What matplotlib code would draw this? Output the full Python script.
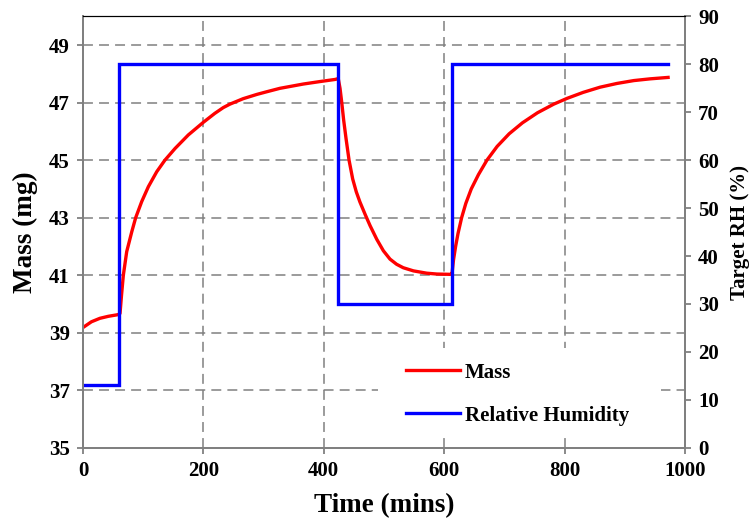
import matplotlib
matplotlib.use("Agg")
import matplotlib.pyplot as plt
from matplotlib.patches import Rectangle

# Mass curve (mins, mg)
mass_t = [0, 14, 28, 42, 56, 60, 61.5, 64, 67, 72.6, 81, 87.5, 97.5, 108.6, 122.5, 136, 153, 175, 200,
          219, 233, 244, 266, 289, 305, 327, 366, 395, 419,
          424, 427, 430, 433, 437, 442, 448, 454, 460, 469, 477, 488, 499, 510, 521, 532, 549, 571, 588, 610,
          613, 615.5, 619, 623, 629, 636, 645, 657, 671, 688, 708, 730, 755, 782, 804, 831, 859,
          887, 915, 942, 972]
mass_mg = [39.18, 39.38, 39.50, 39.57, 39.62, 39.64, 39.67, 40.31, 41.00, 41.82, 42.51, 43.00, 43.56, 44.08, 44.60, 45.00, 45.41, 45.88, 46.32,
           46.63, 46.83, 46.95, 47.14, 47.29, 47.38, 47.50, 47.65, 47.74, 47.81,
           47.84, 47.50, 46.98, 46.40, 45.75, 45.00, 44.35, 43.90, 43.55, 43.10, 42.72, 42.25, 41.85, 41.56, 41.38, 41.26, 41.15, 41.07, 41.04, 41.03,
           41.05, 41.53, 42.00, 42.45, 43.00, 43.50, 44.00, 44.50, 45.00, 45.48, 45.92, 46.30, 46.65, 46.95, 47.15, 47.36, 47.54,
           47.67, 47.77, 47.83, 47.88]

# Target RH step profile (mins, %)
rh_t = [0, 60, 60, 423, 423, 613, 613, 972]
rh_pct = [13, 13, 80, 80, 30, 30, 80, 80]

x_ticks = [0, 200, 400, 600, 800, 1000]
mass_ticks = [35, 37, 39, 41, 43, 45, 47, 49]
rh_ticks = [0, 10, 20, 30, 40, 50, 60, 70, 80, 90]

plt.rcParams['font.family'] = ['Liberation Serif', 'DejaVu Serif']
plt.rcParams['font.weight'] = 'bold'

fig = plt.figure(figsize=(7.56, 5.23), dpi=100)
ax = fig.add_axes([0.1098, 0.144, 0.7962, 0.8245])
ax2 = ax.twinx()

gray = '#808080'
red_line, = ax.plot(mass_t, mass_mg, color='#ff0000', lw=2.4, solid_joinstyle='round', label='Mass', zorder=3)
blue_line, = ax2.plot(rh_t, rh_pct, color='#0000ff', lw=2.4, solid_joinstyle='miter', label='Relative Humidity')

ax.set_xlim(0, 1000)
ax.set_ylim(35, 50)
ax2.set_ylim(0, 90)
ax.set_xticks(x_ticks)
ax.set_yticks(mass_ticks)
ax2.set_yticks(rh_ticks)

ax.grid(True, color=gray, linestyle=(0, (6.5, 4)), linewidth=1.1)
ax.set_axisbelow(True)

for a in (ax, ax2):
    for side in ('left', 'right', 'bottom'):
        a.spines[side].set_color(gray)
        a.spines[side].set_linewidth(1.4)
    a.spines['top'].set_color('black')
    a.spines['top'].set_linewidth(0.8)

ax.tick_params(axis='both', direction='out', length=4.5, width=1.3, color=gray, labelsize=15, pad=5)
ax2.tick_params(axis='y', direction='out', length=4.5, width=1.3, color=gray, labelsize=15, pad=5)

ax.set_xlabel('Time (mins)', fontsize=19.5, fontweight='bold', labelpad=9)
ax.set_ylabel('Mass (mg)', fontsize=19.5, fontweight='bold', labelpad=8)
ax2.set_ylabel('Target RH (%)', fontsize=15, fontweight='bold', labelpad=8)

# white area behind the legend (hides gridlines as in the reference)
ax.add_patch(Rectangle((0.490, 0.036), 0.470, 0.195, transform=ax.transAxes,
                       facecolor='white', edgecolor='none', zorder=1))

leg = ax.legend(handles=[red_line, blue_line], loc='center left', bbox_to_anchor=(0.505, 0.124),
                frameon=False, fontsize=15, handlelength=2.6, labelspacing=1.1,
                borderpad=0.4, handletextpad=0.25)
leg.set_zorder(5)

fig.savefig('out.png', dpi=100)
